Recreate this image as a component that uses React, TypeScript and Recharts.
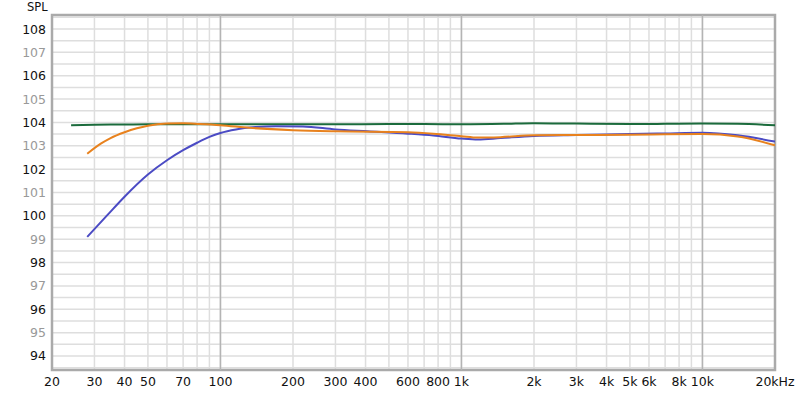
import React from 'react';
import { LineChart, Line, XAxis, YAxis, CartesianGrid, ReferenceLine, ReferenceArea } from 'recharts';

const gridFreqs = [
  20, 30, 40, 50, 60, 70, 80, 90, 100, 200, 300, 400, 500, 600, 700, 800, 900,
  1000, 2000, 3000, 4000, 5000, 6000, 7000, 8000, 9000, 10000, 20000,
];
const freqLabels: Record<number, string> = {
  20: '20', 30: '30', 40: '40', 50: '50', 70: '70', 100: '100', 200: '200', 300: '300', 400: '400',
  600: '600', 800: '800', 1000: '1k', 2000: '2k', 3000: '3k', 4000: '4k', 5000: '5k', 6000: '6k',
  8000: '8k', 10000: '10k', 20000: '20kHz',
};
const majorFreqs = [100, 1000, 10000];
const splTicks = [
  93.5, 94, 94.5, 95, 95.5, 96, 96.5, 97, 97.5, 98, 98.5, 99, 99.5, 100, 100.5, 101, 101.5,
  102, 102.5, 103, 103.5, 104, 104.5, 105, 105.5, 106, 106.5, 107, 107.5, 108, 108.5,
];

const greenFreq = [24, 30, 40, 50, 70, 100, 150, 200, 300, 500, 700, 1000, 1500, 2000, 3000, 5000, 7000, 10000, 14000, 20000];
const greenSpl = [103.88, 103.9, 103.91, 103.92, 103.92, 103.92, 103.92, 103.92, 103.92, 103.93, 103.93, 103.92, 103.94, 103.97, 103.95, 103.93, 103.94, 103.95, 103.94, 103.88];

const orangeFreq = [28, 32, 35, 40, 45, 50, 60, 70, 82, 100, 132, 200, 300, 600, 764, 1000, 1170, 1450, 2000, 3000, 5000, 7000, 10000, 14000, 20000];
const orangeSpl = [102.66, 103.1, 103.33, 103.58, 103.75, 103.86, 103.95, 103.96, 103.93, 103.88, 103.77, 103.67, 103.62, 103.58, 103.52, 103.41, 103.35, 103.37, 103.45, 103.46, 103.47, 103.49, 103.5, 103.4, 103.02];

const blueFreq = [28, 34, 40, 50, 60, 70, 80, 90, 100, 116, 140, 170, 220, 300, 408, 600, 764, 1000, 1170, 1450, 2000, 3000, 5000, 7000, 10000, 14000, 20000];
const blueSpl = [99.1, 100.04, 100.82, 101.77, 102.38, 102.81, 103.13, 103.38, 103.55, 103.7, 103.8, 103.84, 103.83, 103.7, 103.62, 103.52, 103.44, 103.31, 103.27, 103.33, 103.42, 103.46, 103.5, 103.53, 103.56, 103.45, 103.18];

const zip = (f: number[], v: number[]) => f.map((x, i) => ({ f: x, spl: v[i] }));

const FONT = '"DejaVu Sans", Verdana, sans-serif';

const YTick: React.FC<any> = ({ x, y, payload }) => {
  const v = payload.value;
  if (v % 1 !== 0) return <g />;
  return (
    <text x={x} y={y} dy={4.5} textAnchor="end" fontSize={12.5} fontFamily={FONT} fill={v % 2 === 0 ? '#111' : '#999'}>
      {v}
    </text>
  );
};

const App: React.FC = () => {
  return (
    <div style={{ position: 'fixed', left: 0, top: 0, width: 800, height: 394, background: '#fff' }}>
      <div style={{ position: 'absolute', left: 27, top: 0, fontFamily: FONT, fontSize: 11.5, color: '#111' }}>SPL</div>
      <LineChart width={800} height={394} margin={{ top: 15, right: 25, left: 0, bottom: 0 }}>
        <CartesianGrid stroke="#dedede" strokeWidth={1.5} />
        <XAxis
          type="number"
          dataKey="f"
          scale="log"
          domain={[20, 20000]}
          ticks={gridFreqs}
          interval={0}
          tickFormatter={(v: number) => freqLabels[v] ?? ''}
          tickLine={false}
          axisLine={false}
          tickSize={0}
          tickMargin={7}
          height={24}
          allowDataOverflow
          tick={{ fill: '#111', fontSize: 12.5, fontFamily: FONT }}
        />
        <YAxis
          type="number"
          domain={[93.4, 108.6]}
          ticks={splTicks}
          interval={0}
          tick={<YTick />}
          tickLine={false}
          axisLine={false}
          tickSize={0}
          tickMargin={6}
          width={52}
          allowDataOverflow
        />
        {majorFreqs.map((f) => (
          <ReferenceLine key={f} x={f} stroke="#b4b4b4" strokeWidth={1.5} />
        ))}
        <ReferenceArea x1={20} x2={20000} y1={93.4} y2={108.6} fill="none" stroke="#aaaaaa" strokeWidth={2.5} />
        <Line data={zip(greenFreq, greenSpl)} dataKey="spl" type="monotone" stroke="#1b6b3c" strokeWidth={2} dot={false} isAnimationActive={false} />
        <Line data={zip(blueFreq, blueSpl)} dataKey="spl" type="monotone" stroke="#4b4bc4" strokeWidth={2} dot={false} isAnimationActive={false} />
        <Line data={zip(orangeFreq, orangeSpl)} dataKey="spl" type="monotone" stroke="#e8821e" strokeWidth={2} dot={false} isAnimationActive={false} />
      </LineChart>
    </div>
  );
};

export default App;
